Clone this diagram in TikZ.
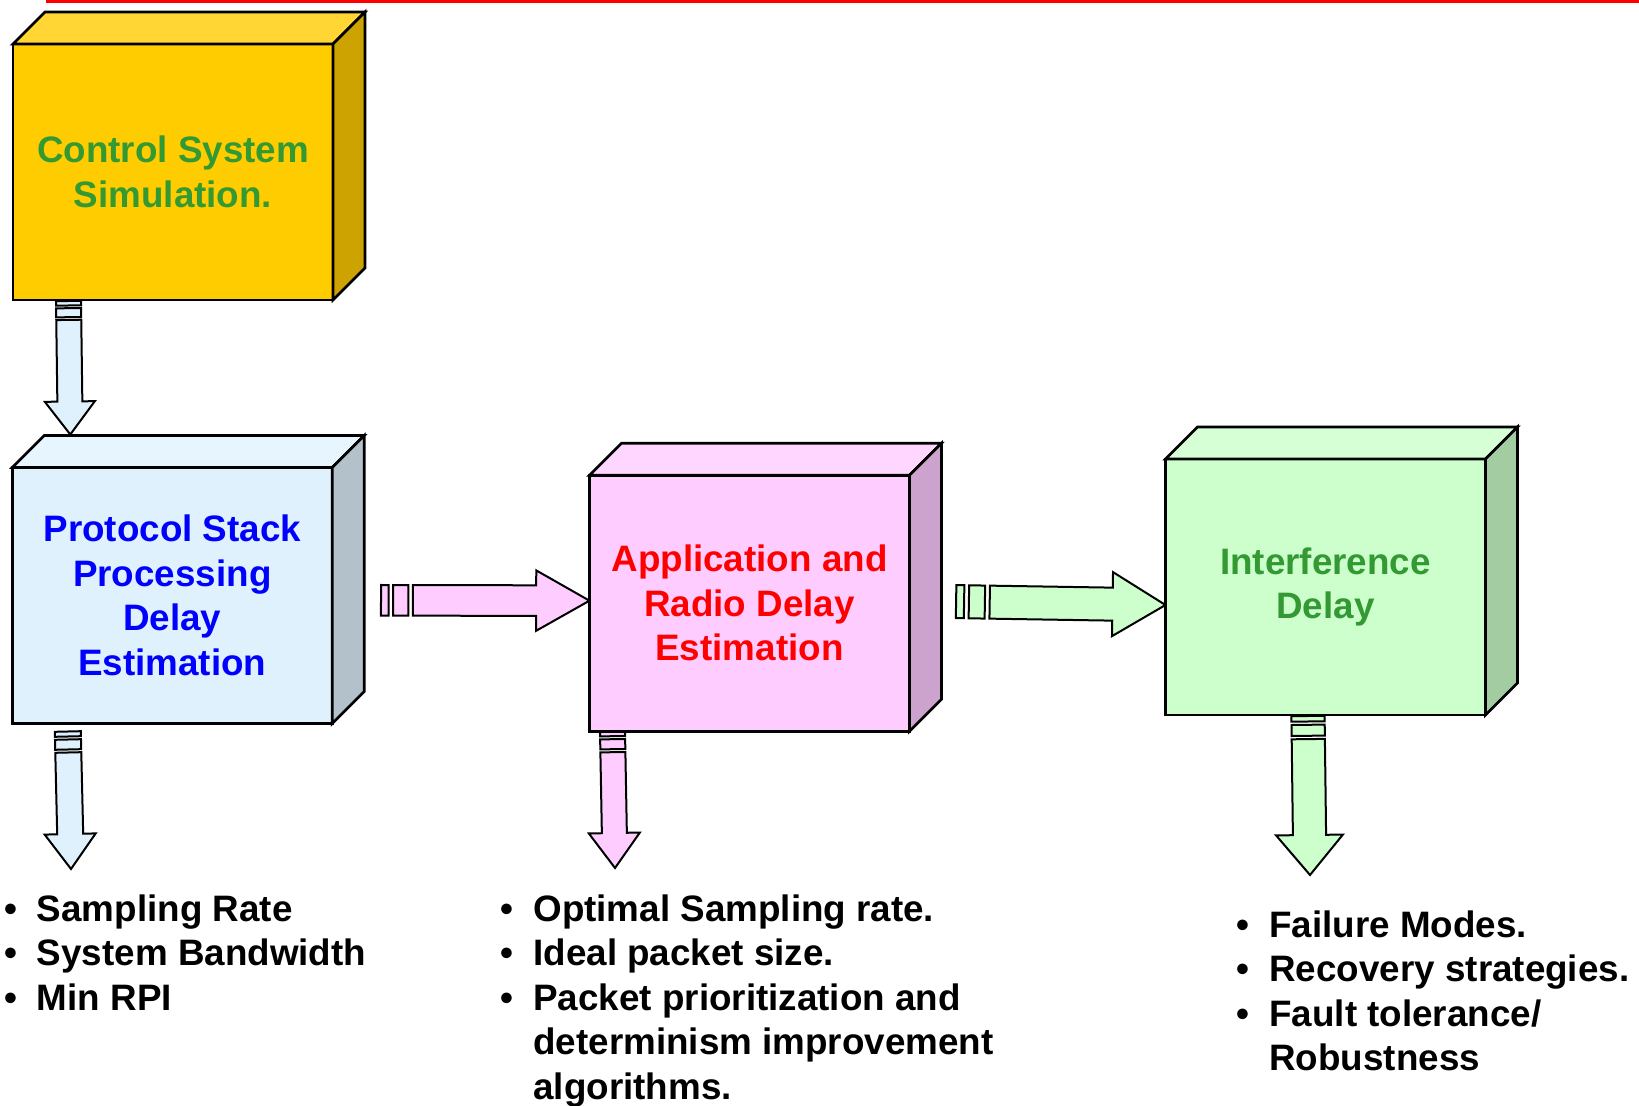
\documentclass[tikz,border=0pt]{standalone}
\usepackage{fontspec}
\setmainfont{Liberation Sans}
\usetikzlibrary{positioning,calc,backgrounds}

\definecolor{ctrlfront}{HTML}{FFCC00}
\definecolor{ctrltop}{HTML}{FFD633}
\definecolor{ctrlside}{HTML}{CCA300}
\definecolor{protofront}{HTML}{DFF1FD}
\definecolor{prototop}{HTML}{E6F5FE}
\definecolor{protoside}{HTML}{B3C1CB}
\definecolor{appfront}{HTML}{FFCCFF}
\definecolor{apptop}{HTML}{FFD6FF}
\definecolor{appside}{HTML}{CCA3CC}
\definecolor{interffront}{HTML}{CCFFCC}
\definecolor{interftop}{HTML}{D6FFD6}
\definecolor{interfside}{HTML}{A3CCA3}
\definecolor{txtgreen}{HTML}{339933}

\newcommand{\diagfont}{\fontsize{18.4}{22.3}\selectfont\bfseries}
\newcommand{\bul}{\llap{\textbullet\hspace{10pt}}}

% striped block arrow: fill, tail, tip, half shaft, half head, head length, stripe unit
\newcommand{\stripedarrow}[7]{%
  \path let \p1=(#2), \p2=(#3) in \pgfextra{%
    \pgfmathsetmacro\arrang{atan2(\y2-\y1,\x2-\x1)}\xdef\arrang{\arrang}%
    \pgfmathsetmacro\arrlen{veclen(\x2-\x1,\y2-\y1)}\xdef\arrlen{\arrlen}};
  \begin{scope}[shift={(#2)},rotate=\arrang,x=1pt,y=1pt]
    \draw[blockarrow,fill=#1] (0,-#4) rectangle (#7,#4);
    \draw[blockarrow,fill=#1] ({1.6*#7},-#4) rectangle ({3.6*#7},#4);
    \draw[blockarrow,fill=#1] ({4.2*#7},-#4) -- ({\arrlen-#6},-#4) -- ({\arrlen-#6},-#5)
      -- (\arrlen,0) -- ({\arrlen-#6},#5) -- ({\arrlen-#6},#4) -- ({4.2*#7},#4) -- cycle;
  \end{scope}}

\begin{document}
\begin{tikzpicture}[x=0.5pt,y=-0.5pt,
    cube/.style={draw,line width=1.35pt,minimum width=160pt,minimum height=128pt,
      inner sep=0pt,outer sep=0pt,align=center,font=\diagfont},
    cubeline/.style={draw,line width=1.35pt},
    blockarrow/.style={draw=black,line width=1pt},
    list/.style={anchor=base west,inner sep=0pt,font=\diagfont}]

\useasboundingbox (0,0) rectangle (1639,1106);

% red rule at the top
\fill[red] (46,0) rectangle (1639,2.7);

% boxes (front faces)
\node[cube,fill=ctrlfront,text=txtgreen] (ctrl) at (173,172) {Control System\\Simulation.};
\node[cube,fill=protofront,text=blue] (proto) at (172.3,595.5) {Protocol Stack\\Processing\\Delay\\Estimation};
\node[cube,fill=appfront,text=red] (app) at (749.5,603.2) {Application and\\Radio Delay\\Estimation};
\node[cube,fill=interffront,text=txtgreen] (interf) at (1325.5,587) {Interference\\Delay};

% top and side faces
\foreach \n/\tc/\sc in {ctrl/ctrltop/ctrlside,proto/prototop/protoside,
                        app/apptop/appside,interf/interftop/interfside}{
  \draw[cubeline,fill=\tc] (\n.north west) -- ++(16pt,16pt)
    -- ([shift={(16pt,16pt)}]\n.north east) -- (\n.north east) -- cycle;
  \draw[cubeline,fill=\sc] (\n.north east) -- ++(16pt,16pt)
    -- ([shift={(16pt,16pt)}]\n.south east) -- (\n.south east) -- cycle;
}

% arrow ends
\coordinate (a1s) at ([xshift=27.75pt,yshift=-0.5pt]ctrl.south west);
\coordinate (a1e) at ([xshift=29pt,yshift=16.5pt]proto.north west);
\coordinate (a2s) at ([xshift=27.75pt,yshift=-4pt]proto.south west);
\coordinate (a2e) at (71,869);
\coordinate (a3s) at ([xshift=11.5pt]app.south west);
\coordinate (a3e) at (615,868);
\coordinate (a4s) at ([xshift=71.25pt,yshift=-0.5pt]interf.south west);
\coordinate (a4e) at (1310,875);
\coordinate (aAs) at ([xshift=24.35pt,yshift=-2.4pt]proto.east);
\coordinate (aAe) at ([yshift=1.25pt]app.west);
\coordinate (aBs) at ([xshift=23.3pt,yshift=0.8pt]app.east);
\coordinate (aBe) at ([yshift=-9pt]interf.west);

\begin{scope}[on background layer]
\stripedarrow{protofront}{a1s}{a1e}{6.25}{12.5}{16.5}{2.25}
\stripedarrow{protofront}{a2s}{a2e}{6.5}{12.75}{17.5}{2.5}
\stripedarrow{appfront}{a3s}{a3e}{6.25}{12.75}{17.5}{2.5}
\stripedarrow{interffront}{a4s}{a4e}{8.3}{16.7}{20}{2.75}
\stripedarrow{appfront}{aAs}{aAe}{7.65}{15.1}{26.65}{3.8}
\stripedarrow{interffront}{aBs}{aBe}{8.25}{16}{26.5}{4}
\end{scope}

% bullet lists
\node[list] (ratelist) at (36.6,921) {\begin{tabular}[t]{@{}l@{}}
  \bul Sampling Rate\\ \bul System Bandwidth\\ \bul Min RPI\end{tabular}};
\node[list] (packetlist) at (533,921) {\begin{tabular}[t]{@{}l@{}}
  \bul Optimal Sampling rate.\\ \bul Ideal packet size.\\
  \bul Packet prioritization and\\ determinism improvement\\ algorithms.\end{tabular}};
\node[list] (faultlist) at (1269,937) {\begin{tabular}[t]{@{}l@{}}
  \bul Failure Modes.\\ \bul Recovery strategies.\\
  \bul Fault tolerance/\\ Robustness\end{tabular}};

\end{tikzpicture}
\end{document}
